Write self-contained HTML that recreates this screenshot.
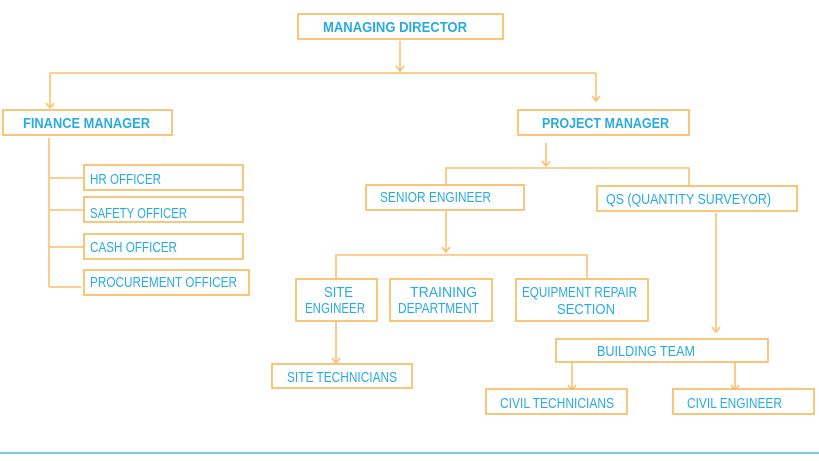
<!DOCTYPE html>
<html><head><meta charset="utf-8"><style>
html,body{margin:0;padding:0;background:#fff;}
svg{display:block;}
.b{fill:#fff;stroke:#f9b75a;stroke-width:1.6;}
.l{fill:none;stroke:#fbc170;stroke-width:1.6;}
.t{font-family:"Liberation Sans",sans-serif;fill:#29abe2;font-size:15px;}
.h{font-weight:bold;}
</style></head><body>
<svg width="819" height="461" viewBox="0 0 819 461" xmlns="http://www.w3.org/2000/svg">
<!-- connectors -->
<path class="l" d="M400,41 V72"/>
<path class="l" d="M50,73 H596"/>
<path class="l" d="M50,73 V108"/>
<path class="l" d="M596,73 V101"/>
<path class="l" d="M49,138 V287 M49,178 H84 M49,210 H84 M49,247 H84 M49,287 H81"/>
<path class="l" d="M546,143 V166"/>
<path class="l" d="M446,185 V168 H689 V186"/>
<path class="l" d="M446,211 V252"/>
<path class="l" d="M336,279 V255 H587 V279"/>
<path class="l" d="M336,321 V363"/>
<path class="l" d="M716,213 V332"/>
<path class="l" d="M572,362 V390"/>
<path class="l" d="M735,362 V390"/>
<!-- arrowheads -->
<path class="l" d="M396,66 L400,71 L404,66 M46,103 L50,108 L54,103 M592,96 L596,101 L600,96 M542,161 L546,166 L550,161 M442,247 L446,252 L450,247 M332,358 L336,363 L340,358 M712,327 L716,332 L720,327 M568,385 L572,390 L576,385 M731,385 L735,390 L739,385"/>
<!-- boxes -->
<rect class="b" x="298" y="14" width="205" height="25"/>
<rect class="b" x="3" y="110" width="169" height="25"/>
<rect class="b" x="518" y="110" width="171" height="25"/>
<rect class="b" x="84" y="165" width="159" height="25"/>
<rect class="b" x="84" y="197" width="159" height="25"/>
<rect class="b" x="84" y="234" width="159" height="25"/>
<rect class="b" x="84" y="270" width="165" height="25"/>
<rect class="b" x="366" y="185" width="158" height="25"/>
<rect class="b" x="597" y="186" width="200" height="25"/>
<rect class="b" x="296" y="279" width="81" height="42"/>
<rect class="b" x="390" y="279" width="102" height="42"/>
<rect class="b" x="516" y="279" width="132" height="42"/>
<rect class="b" x="272" y="364" width="140" height="24"/>
<rect class="b" x="556" y="339" width="212" height="23"/>
<rect class="b" x="486" y="389" width="141" height="25"/>
<rect class="b" x="673" y="389" width="141" height="25"/>
<line x1="0" y1="453" x2="819" y2="453" stroke="#6cc0e5" stroke-width="1.8"/>
<!-- text -->
<text class="t h" x="323" y="32" textLength="144" lengthAdjust="spacingAndGlyphs">MANAGING  DIRECTOR</text>
<text class="t h" x="23" y="128" textLength="127" lengthAdjust="spacingAndGlyphs">FINANCE  MANAGER</text>
<text class="t h" x="542" y="128" textLength="127" lengthAdjust="spacingAndGlyphs">PROJECT MANAGER</text>
<text class="t" x="90" y="184" textLength="71" lengthAdjust="spacingAndGlyphs">HR OFFICER</text>
<text class="t" x="90" y="218" textLength="97" lengthAdjust="spacingAndGlyphs">SAFETY  OFFICER</text>
<text class="t" x="90" y="252" textLength="87" lengthAdjust="spacingAndGlyphs">CASH OFFICER</text>
<text class="t" x="90" y="287" textLength="147" lengthAdjust="spacingAndGlyphs">PROCUREMENT OFFICER</text>
<text class="t" x="380" y="202" textLength="111" lengthAdjust="spacingAndGlyphs">SENIOR  ENGINEER</text>
<text class="t" x="606" y="204" textLength="165" lengthAdjust="spacingAndGlyphs">QS (QUANTITY SURVEYOR)</text>
<text class="t" x="324" y="297" textLength="29" lengthAdjust="spacingAndGlyphs">SITE</text>
<text class="t" x="305" y="313" textLength="60" lengthAdjust="spacingAndGlyphs">ENGINEER</text>
<text class="t" x="410" y="297" textLength="67" lengthAdjust="spacingAndGlyphs">TRAINING</text>
<text class="t" x="398" y="313" textLength="81" lengthAdjust="spacingAndGlyphs">DEPARTMENT</text>
<text class="t" x="522" y="297" textLength="115" lengthAdjust="spacingAndGlyphs">EQUIPMENT REPAIR</text>
<text class="t" x="557" y="314" textLength="58" lengthAdjust="spacingAndGlyphs">SECTION</text>
<text class="t" x="287" y="382" textLength="110" lengthAdjust="spacingAndGlyphs">SITE  TECHNICIANS</text>
<text class="t" x="597" y="356" textLength="98" lengthAdjust="spacingAndGlyphs">BUILDING  TEAM</text>
<text class="t" x="500" y="408" textLength="114" lengthAdjust="spacingAndGlyphs">CIVIL  TECHNICIANS</text>
<text class="t" x="687" y="408" textLength="95" lengthAdjust="spacingAndGlyphs">CIVIL  ENGINEER</text>
</svg>
</body></html>
